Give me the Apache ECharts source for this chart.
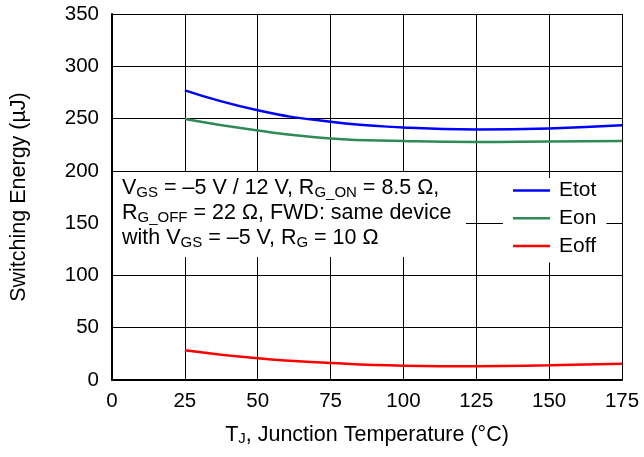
<!DOCTYPE html>
<html>
<head>
<meta charset="utf-8">
<script src="https://cdn.jsdelivr.net/npm/echarts@6/dist/echarts.min.js"></script>
<style>html,body{margin:0;padding:0;background:#fff;}#c{width:644px;height:457px;}</style>
</head>
<body>
<div id="c"></div>
<script>
const temps = [25, 50, 75, 100, 125, 150, 175];
const etot = [277, 258, 247, 241.5, 239.5, 240.5, 243.5];
const eon = [249.5, 238.5, 231, 228.5, 227.5, 228, 228.5];
const eoff = [28.5, 20.7, 16.3, 13.7, 13.1, 14, 15.6];
const xTicks = [0, 25, 50, 75, 100, 125, 150, 175];
const yTicks = [0, 50, 100, 150, 200, 250, 300, 350];

const FF = '"Liberation Sans", Arial, Helvetica, sans-serif';
const pairs = ys => temps.map((t, i) => [t, ys[i]]);
const chart = echarts.init(document.getElementById('c'));

chart.setOption({
  animation: false,
  backgroundColor: '#fff',
  grid: { left: 112, right: 22, top: 14, bottom: 77, show: false },
  xAxis: {
    type: 'value', min: xTicks[0], max: xTicks[xTicks.length - 1], interval: 25,
    name: 'T{s|J}, Junction Temperature (°C)', nameLocation: 'middle', nameGap: 44,
    nameTextStyle: { fontSize: 21.5, fontFamily: FF, color: '#000', rich: { s: { fontSize: 15, lineHeight: 14, verticalAlign: 'bottom', fontFamily: FF, color: '#000' } } },
    axisLine: { show: true, lineStyle: { color: '#000', width: 2 } },
    axisTick: { show: false },
    axisLabel: { fontSize: 20.5, fontFamily: FF, color: '#000', margin: 11 },
    splitLine: { show: true, lineStyle: { color: '#000', width: 1 } }
  },
  yAxis: {
    type: 'value', min: yTicks[0], max: yTicks[yTicks.length - 1], interval: 50,
    name: 'Switching Energy (µJ)', nameLocation: 'middle', nameGap: 82,
    nameTextStyle: { fontSize: 21.5, fontFamily: FF, color: '#000' },
    axisLine: { show: true, lineStyle: { color: '#000', width: 2 } },
    axisTick: { show: false },
    axisLabel: { fontSize: 20.5, fontFamily: FF, color: '#000', margin: 13 },
    splitLine: { show: true, lineStyle: { color: '#000', width: 1 } }
  },
  legend: {
    orient: 'vertical', left: 503, top: 178,
    backgroundColor: '#fff', padding: [2, 10, 6, 10],
    icon: 'rect', itemWidth: 37, itemHeight: 2.5, itemGap: 6.7,
    textStyle: { fontSize: 21, fontFamily: FF, color: '#000', lineHeight: 20, padding: [0, 0, 0, 4] },
    data: ['Etot', 'Eon', 'Eoff']
  },
  graphic: [
    { type: 'rect', z: 100, shape: { x: 113, y: 172, width: 353, height: 85 }, style: { fill: '#fff' } },
    { type: 'text', z: 101, style: {
        x: 122, y: 175.5, align: 'left', verticalAlign: 'top',
        fontSize: 21.5, fontFamily: FF, lineHeight: 25, fill: '#000',
        text: 'V{s|GS} = –5 V / 12 V, R{s|G_ON} = 8.5 Ω,\nR{s|G_OFF} = 22 Ω, FWD: same device\nwith V{s|GS} = –5 V, R{s|G} = 10 Ω',
        rich: { s: { fontSize: 15, lineHeight: 14, verticalAlign: 'bottom', fontFamily: FF, fill: '#000' } }
    } }
  ],
  series: [
    { name: 'Etot', type: 'line', data: pairs(etot), smooth: true, symbol: 'none', lineStyle: { color: '#0000ff', width: 2.5 }, itemStyle: { color: '#0000ff' } },
    { name: 'Eon', type: 'line', data: pairs(eon), smooth: true, symbol: 'none', lineStyle: { color: '#2e8b57', width: 2.5 }, itemStyle: { color: '#2e8b57' } },
    { name: 'Eoff', type: 'line', data: pairs(eoff), smooth: true, symbol: 'none', lineStyle: { color: '#ff0000', width: 2.5 }, itemStyle: { color: '#ff0000' } }
  ]
});
</script>
</body>
</html>
